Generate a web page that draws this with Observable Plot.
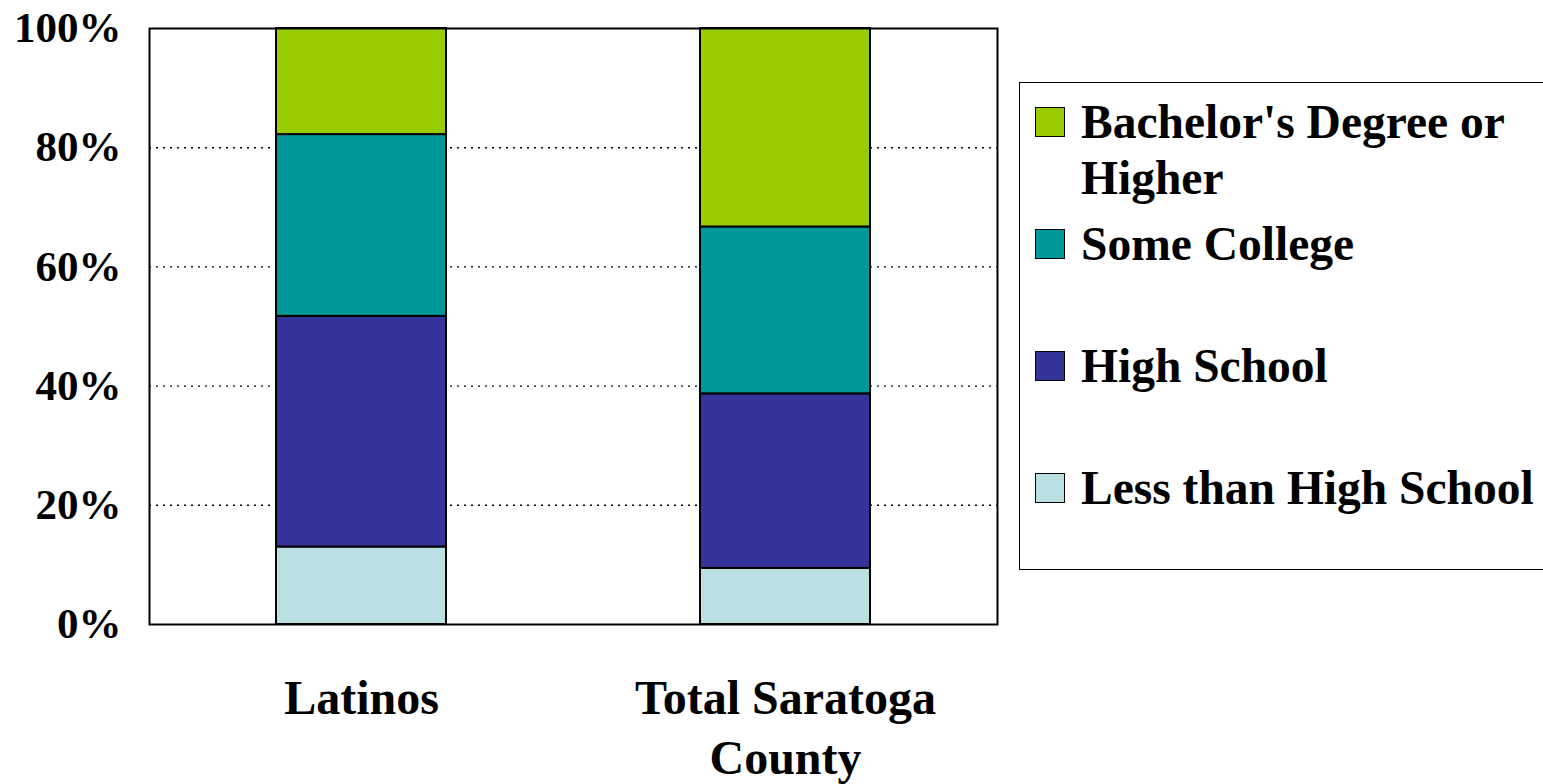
<!DOCTYPE html>
<html>
<head>
<meta charset="utf-8">
<script src="https://cdn.jsdelivr.net/npm/d3@7"></script>
<script src="https://cdn.jsdelivr.net/npm/@observablehq/plot@0.6"></script>
<style>
  html, body { margin: 0; padding: 0; background: #fff; overflow: hidden; }
  #wrap { position: relative; width: 1543px; height: 784px; }
  #legend {
    position: absolute; left: 1019px; top: 82px; width: 620px; height: 488px;
    border: 1.5px solid #000; box-sizing: border-box; padding: 11px 0 0 15px;
    font-family: "Liberation Serif", "Times New Roman", serif; font-weight: bold; font-size: 47.5px;
  }
  .item { display: flex; align-items: flex-start; height: 122px; }
  .sw { width: 28px; height: 28px; border: 1.5px solid #000; margin-top: 13px; margin-right: 16px; flex: none; }
  .lab { line-height: 56px; width: 480px; }
</style>
</head>
<body>
<div id="wrap">
  <div id="chart"></div>
  <div id="legend"></div>
</div>
<script>
const categories = ["Latinos", "Total Saratoga\nCounty"];
const levels = ["Less than High School", "High School", "Some College", "Bachelor's Degree or Higher"];
const colors = ["#BBE0E3", "#333399", "#009999", "#99CC00"];
const latinos = [13.0, 38.7, 30.5, 17.8];
const saratoga = [9.4, 29.3, 28.0, 33.3];
const yTicks = [0, 20, 40, 60, 80, 100];
const legendOrder = ["Bachelor's Degree or Higher", "Some College", "High School", "Less than High School"];

const series = [latinos, saratoga];
const data = [];
levels.forEach((lv, i) => {
  categories.forEach((c, j) => data.push({category: c, level: lv, value: series[j][i]}));
});

const font = '"Liberation Serif", "Times New Roman", serif';

const chart = Plot.plot({
  width: 1543,
  height: 784,
  marginTop: 28,
  marginBottom: 160,
  marginLeft: 149,
  marginRight: 546,
  style: {fontFamily: font, fontWeight: "bold", background: "#fff", color: "#000"},
  x: {domain: categories, paddingInner: 0.6, paddingOuter: 0.3, label: null},
  y: {domain: [0, 100], label: null},
  color: {domain: levels, range: colors},
  marks: [
    Plot.gridY(yTicks.filter(d => d > 0 && d < 100), {stroke: "#000", strokeOpacity: 1, strokeDasharray: "2,5", strokeWidth: 1.4}),
    Plot.barY(data, {x: "category", y: "value", fill: "level", stroke: "#000", strokeWidth: 2, order: levels}),
    Plot.frame({stroke: "#000", strokeWidth: 2}),
    Plot.axisY(yTicks, {tickSize: 0, tickPadding: 28, tickFormat: d => d + "%", fontSize: 43, fontWeight: "bold", fontFamily: font, label: null}),
    Plot.axisX({tickSize: 0, tickPadding: 47, fontSize: 48, fontWeight: "bold", fontFamily: font, lineHeight: 1.25, label: null})
  ]
});
document.getElementById("chart").appendChild(chart);

const legend = document.getElementById("legend");
legendOrder.forEach(lv => {
  const row = document.createElement("div");
  row.className = "item";
  const sw = document.createElement("div");
  sw.className = "sw";
  sw.style.background = colors[levels.indexOf(lv)];
  const lab = document.createElement("div");
  lab.className = "lab";
  lab.textContent = lv;
  row.appendChild(sw);
  row.appendChild(lab);
  legend.appendChild(row);
});
</script>
</body>
</html>
